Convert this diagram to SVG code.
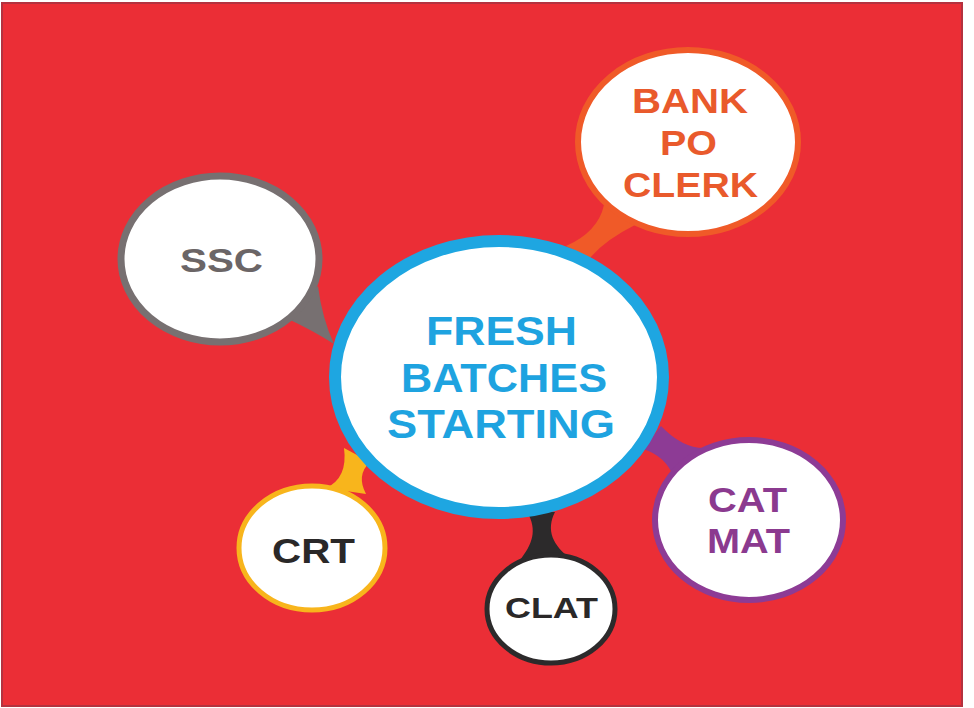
<svg xmlns="http://www.w3.org/2000/svg" width="974" height="708" viewBox="0 0 974 708">
<style>
text{font-family:"Liberation Sans",Arial,sans-serif;font-weight:bold}
.bub{fill:#ffffff}
</style>
<rect x="0" y="0" width="974" height="708" fill="#ffffff"/>
<rect x="2" y="3" width="960" height="703" fill="#eb2e36" stroke="#b4323f" stroke-width="2"/>
<g id="connectors">
<path d="M604 205 Q598 232 566 246 L590 258 Q605 240 635 225 Z" fill="#f05a28"/>
<path d="M286 318 Q312 330 334 344 Q322 318 318 286 Z" fill="#777071"/>
<path d="M326 488 Q348 478 344 448 L370 462 Q356 475 366 494 Z" fill="#f8b51c"/>
<path d="M527 512 C538 530 532 545 520 560 L572 560 C552 545 546 530 555 512 Z" fill="#2c2a2b"/>
<path d="M643 449 Q666 456 674 478 L704 448 Q682 448 661 426 Z" fill="#8d3b95"/>
</g>
<g id="center">
<ellipse cx="499" cy="377" rx="164" ry="136" class="bub" stroke="#1ea6e1" stroke-width="12"/>
<text x="426" y="345" font-size="40" textLength="151" lengthAdjust="spacingAndGlyphs" fill="#1ea3e0">FRESH</text>
<text x="401" y="392" font-size="40" textLength="206" lengthAdjust="spacingAndGlyphs" fill="#1ea3e0">BATCHES</text>
<text x="387" y="438" font-size="40" textLength="228" lengthAdjust="spacingAndGlyphs" fill="#1ea3e0">STARTING</text>
</g>
<g id="bank">
<ellipse cx="688" cy="142" rx="110" ry="92" class="bub" stroke="#f05a28" stroke-width="6"/>
<text x="632" y="113" font-size="35" textLength="116" lengthAdjust="spacingAndGlyphs" fill="#e95a2c">BANK</text>
<text x="660" y="155" font-size="35" textLength="57" lengthAdjust="spacingAndGlyphs" fill="#e95a2c">PO</text>
<text x="623" y="197" font-size="35" textLength="135" lengthAdjust="spacingAndGlyphs" fill="#e95a2c">CLERK</text>
</g>
<g id="ssc">
<ellipse cx="220" cy="259" rx="99" ry="83" class="bub" stroke="#777071" stroke-width="7"/>
<text x="180" y="272" font-size="34" textLength="83" lengthAdjust="spacingAndGlyphs" fill="#6b6566">SSC</text>
</g>
<g id="crt">
<ellipse cx="312" cy="548" rx="73" ry="62" class="bub" stroke="#f8b51c" stroke-width="5"/>
<text x="272" y="563" font-size="35" textLength="83" lengthAdjust="spacingAndGlyphs" fill="#2a2828">CRT</text>
</g>
<g id="clat">
<ellipse cx="551" cy="609" rx="64" ry="54" class="bub" stroke="#2c2a2b" stroke-width="5"/>
<text x="505" y="618" font-size="30" textLength="93" lengthAdjust="spacingAndGlyphs" fill="#2a2828">CLAT</text>
</g>
<g id="catmat">
<ellipse cx="749" cy="520" rx="94" ry="80" class="bub" stroke="#8d3b95" stroke-width="6"/>
<text x="708" y="512" font-size="35" textLength="79" lengthAdjust="spacingAndGlyphs" fill="#8b3a8f">CAT</text>
<text x="707" y="553" font-size="35" textLength="83" lengthAdjust="spacingAndGlyphs" fill="#8b3a8f">MAT</text>
</g>
</svg>
